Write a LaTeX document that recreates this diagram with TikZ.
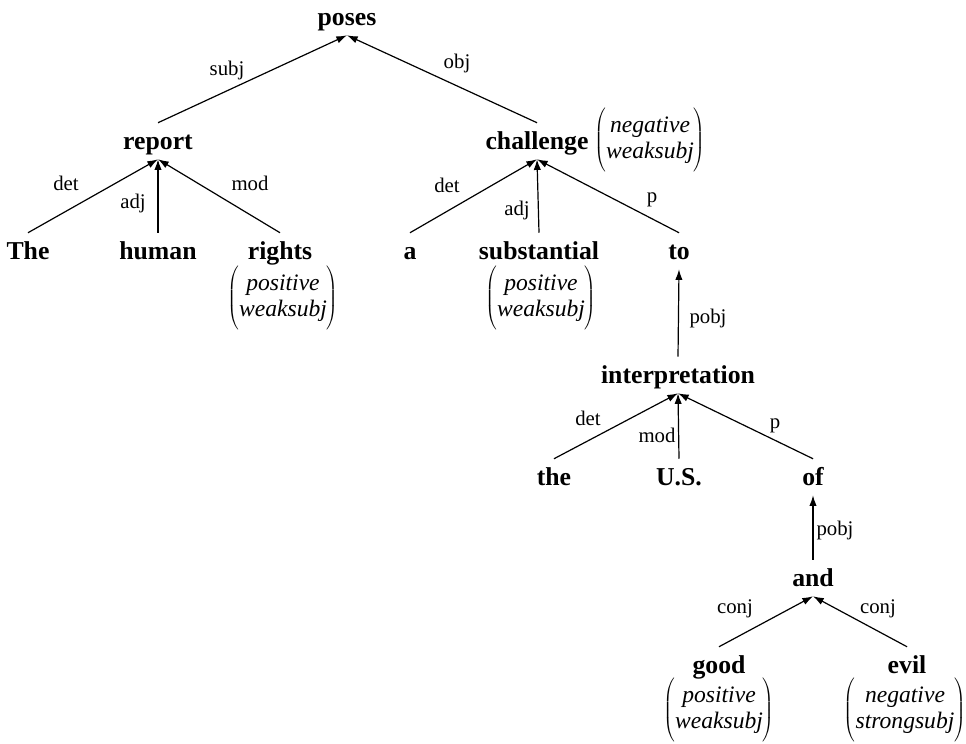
\documentclass[tikz,border=0pt]{standalone}
\usepackage{fontspec}
\setmainfont{Liberation Serif}
\usetikzlibrary{arrows.meta}
\newcommand{\featbox}[2]{$\left(\vcenter{\hbox{\rule{0pt}{50pt}}}\begin{array}{@{}c@{}}\textit{#1}\\\textit{#2}\end{array}\right)$}
\begin{document}
\begin{tikzpicture}[x=0.75pt,y={(0pt,-0.75pt)},
	word/.style={font=\fontsize{19.3}{23}\selectfont\bfseries, anchor=base, inner xsep=0pt, inner ysep=3pt, text height=16.5pt, text depth=4.5pt},
	rel/.style={font=\fontsize{15.6}{18}\selectfont, anchor=base, inner sep=0pt},
	feat/.style={font=\fontsize{17.7}{19.5}\selectfont, inner sep=0pt},
	dep/.style={line width=0.9pt, -{Latex[length=8pt,width=5.5pt]}}]
		\useasboundingbox (0,0) rectangle (966,743);
		% words
		\node[word] (poses) at (347,25) {poses};
		\node[word] (report) at (158,149) {report};
		\node[word] (challenge) at (537,149) {challenge};
		\node[word] (The) at (28,259) {The};
		\node[word] (human) at (158,259) {human};
		\node[word] (rights) at (280,259) {rights};
		\node[word] (a) at (410,259) {a};
		\node[word] (substantial) at (539,259) {substantial};
		\node[word] (to) at (679,259) {to};
		\node[word] (interpretation) at (678,383) {interpretation};
		\node[word] (the) at (554,485) {the};
		\node[word] (US) at (679,485) {U.S.};
		\node[word] (of) at (813,485) {of};
		\node[word] (and) at (813,586) {and};
		\node[word] (good) at (719,673) {good};
		\node[word] (evil) at (907,673) {evil};
		% features
		\node[feat] (fchallenge) at (650,140) {\featbox{negative}{weaksubj}};
		\node[feat] (frights) at (283,298) {\featbox{positive}{weaksubj}};
		\node[feat] (fsubstantial) at (541,298) {\featbox{positive}{weaksubj}};
		\node[feat] (fgood) at (719,710) {\featbox{positive}{weaksubj}};
		\node[feat] (fevil) at (905,710) {\featbox{negative}{strongsubj}};
		% dependencies
		\draw[dep] (report.north) -- (poses.south);
		\draw[dep] (challenge.north) -- (poses.south);
		\draw[dep] (The.north) -- (report.south);
		\draw[dep] (human.north) -- (report.south);
		\draw[dep] (rights.north) -- (report.south);
		\draw[dep] (a.north) -- (challenge.south);
		\draw[dep] (substantial.north) -- (challenge.south);
		\draw[dep] (to.north) -- (challenge.south);
		\draw[dep] (interpretation.north) -- (to.south);
		\draw[dep] (the.north) -- (interpretation.south);
		\draw[dep] (US.north) -- (interpretation.south);
		\draw[dep] (of.north) -- (interpretation.south);
		\draw[dep] (and.north) -- (of.south);
		\draw[dep] (good.north) -- (and.south);
		\draw[dep] (evil.north) -- (and.south);
		% relation labels
		\node[rel] (lsubj) at (227,75) {subj};
		\node[rel] (lobj) at (457,68) {obj};
		\node[rel] (ldet) at (66,190) {det};
		\node[rel] (ladj) at (133,208) {adj};
		\node[rel] (lmod) at (250,190) {mod};
		\node[rel] (ldettwo) at (447,192) {det};
		\node[rel] (ladjtwo) at (517,215) {adj};
		\node[rel] (lp) at (652,202) {p};
		\node[rel] (lpobj) at (708,323) {pobj};
		\node[rel] (ldetthree) at (588,425) {det};
		\node[rel] (lmodthree) at (657,442) {mod};
		\node[rel] (lpthree) at (775,428) {p};
		\node[rel] (lpobjtwo) at (835,535) {pobj};
		\node[rel] (lconj) at (735,613) {conj};
		\node[rel] (lconjtwo) at (878,613) {conj};
		\end{tikzpicture}
\end{document}
